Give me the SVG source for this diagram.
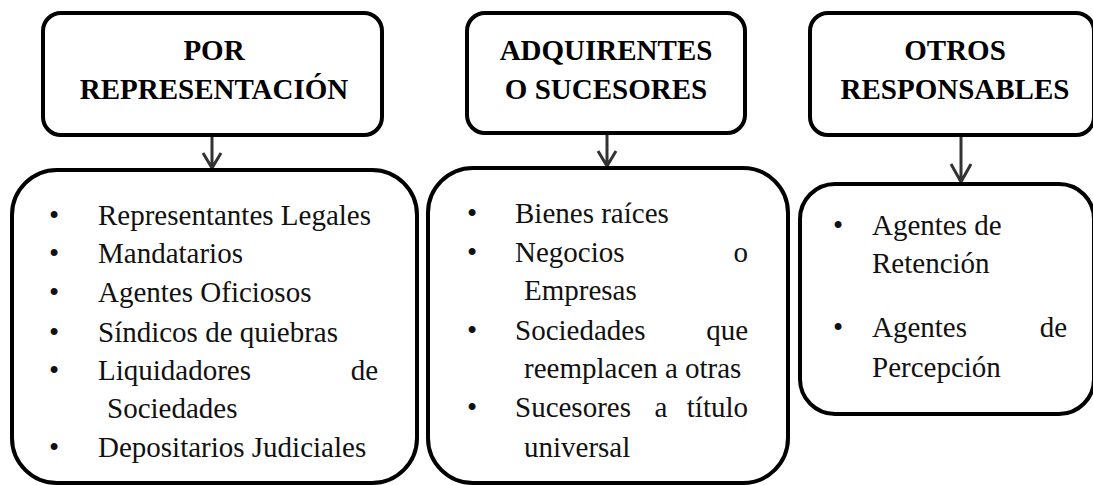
<svg xmlns="http://www.w3.org/2000/svg" width="1093" height="485" viewBox="0 0 1093 485">
<style>
.box{fill:#fff;stroke:#000;stroke-width:4}
.t{font-family:'Liberation Serif','Times New Roman',serif;font-size:29px;font-weight:bold;fill:#000;text-anchor:middle}
.b{font-family:'Liberation Serif','Times New Roman',serif;font-size:29px;fill:#111}
.e{text-anchor:end}
.m{text-anchor:middle}
.c{fill:none;stroke:#333;stroke-width:3}
</style>
<rect width="1093" height="485" fill="#fff"/>
<g id="connectors">
<path class="c" d="M212 135V168M203 153L212 168L221 153"/>
<path class="c" d="M607 133V166M598 151L607 166L616 151"/>
<path class="c" d="M961 135V182M951 164L961 182L971 164"/>
</g>
<g id="por-representacion">
<rect class="box" x="43" y="13" width="339" height="122" rx="18"/>
<text class="t" x="214" y="60">POR</text>
<text class="t" x="214" y="99">REPRESENTACIÓN</text>
</g>
<g id="adquirentes">
<rect class="box" x="467" y="13" width="278" height="120" rx="18"/>
<text class="t" x="606" y="60">ADQUIRENTES</text>
<text class="t" x="606" y="99">O SUCESORES</text>
</g>
<g id="otros">
<rect class="box" x="810" y="13" width="284" height="122" rx="18"/>
<text class="t" x="955" y="60">OTROS</text>
<text class="t" x="955" y="99">RESPONSABLES</text>
</g>
<g id="lista-representacion">
<rect class="box" x="12" y="170" width="405" height="313" rx="45"/>
<g class="b">
<text class="m" x="54" y="225">•</text><text x="98" y="225">Representantes Legales</text>
<text class="m" x="54" y="263">•</text><text x="98" y="263">Mandatarios</text>
<text class="m" x="54" y="302">•</text><text x="98" y="302">Agentes Oficiosos</text>
<text class="m" x="54" y="342">•</text><text x="98" y="342">Síndicos de quiebras</text>
<text class="m" x="54" y="380">•</text><text x="98" y="380">Liquidadores</text><text class="e" x="378" y="380">de</text>
<text x="107" y="418">Sociedades</text>
<text class="m" x="54" y="457">•</text><text x="98" y="457">Depositarios Judiciales</text>
</g>
</g>
<g id="lista-adquirentes">
<rect class="box" x="428" y="168" width="360" height="315" rx="45"/>
<g class="b">
<text class="m" x="472" y="223">•</text><text x="515" y="223">Bienes raíces</text>
<text class="m" x="472" y="262">•</text><text x="515" y="262">Negocios</text><text class="e" x="748" y="262">o</text>
<text x="524" y="300">Empresas</text>
<text class="m" x="472" y="340">•</text><text x="515" y="340">Sociedades</text><text class="e" x="748" y="340">que</text>
<text x="524" y="378">reemplacen a otras</text>
<text class="m" x="472" y="417">•</text><text x="515" y="417">Sucesores</text><text class="m" x="661" y="417">a</text><text class="e" x="748" y="417">título</text>
<text x="524" y="457">universal</text>
</g>
</g>
<g id="lista-otros">
<rect class="box" x="800" y="184" width="294" height="230" rx="35"/>
<g class="b">
<text class="m" x="838" y="235">•</text><text x="872" y="235">Agentes de</text>
<text x="872" y="273">Retención</text>
<text class="m" x="838" y="337">•</text><text x="872" y="337">Agentes</text><text class="e" x="1067" y="337">de</text>
<text x="872" y="377">Percepción</text>
</g>
</g>
</svg>
